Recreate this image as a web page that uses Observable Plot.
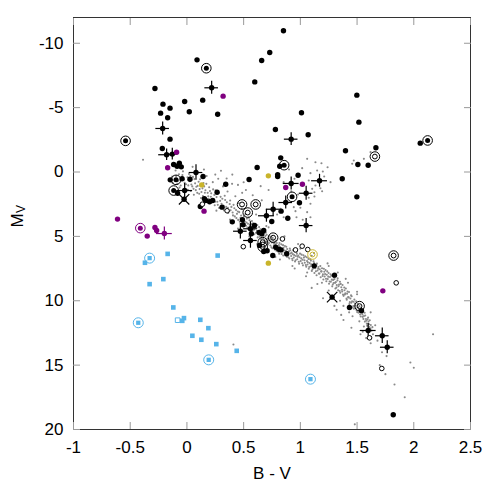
<!DOCTYPE html>
<html>
<head>
<meta charset="utf-8">
<script src="https://cdn.jsdelivr.net/npm/d3@7"></script>
<script src="https://cdn.jsdelivr.net/npm/@observablehq/plot@0.6"></script>
<style>
  html, body { margin: 0; padding: 0; background: white; }
</style>
</head>
<body>
<div id="chart"></div>
<script>
// ---------- tick labels ----------
const xTicks = [-1, -0.5, 0, 0.5, 1, 1.5, 2, 2.5];
const yTicks = [-10, -5, 0, 5, 10, 15, 20];

// ---------- field stars (small gray dots) [B-V, Mv] ----------
const fieldStars = [
[-0.13,0.35],[-0.11,0.62],[-0.10,-0.12],[-0.085,0.92],[-0.07,0.18],[-0.065,1.21],[-0.045,0.47],[-0.035,-0.05],[-0.02,0.83],[-0.015,1.32],[0.005,0.41],[0.012,1.04],[0.018,0.16],[0.026,0.72],[0.034,1.48],[0.047,1.12],[0.053,0.38],[0.061,1.77],[0.072,0.88],[0.078,1.41],[0.086,0.07],[0.094,1.08],[0.108,1.69],[0.116,0.57],[0.124,2.02],[0.137,1.27],[0.146,0.86],[0.158,1.61],[0.166,2.18],[0.174,0.31],[0.188,1.88],[0.196,1.19],[0.207,2.36],[0.214,1.66],[0.228,0.79],[0.236,2.12],[0.245,2.58],[0.253,1.43],[0.268,2.31],[0.276,0.52],[0.284,2.79],[0.297,1.93],[0.305,2.47],[0.318,1.12],[0.326,2.98],[0.337,2.18],[0.346,2.71],[0.358,1.52],[0.364,3.18],[0.377,2.49],[0.385,2.97],[0.398,0.92],[0.406,3.37],[0.418,2.82],[0.427,1.88],[0.436,3.58],[0.449,3.07],[0.457,2.41],[0.466,3.86],[0.478,3.38],[0.487,1.62],
[0.495,3.71],[0.506,4.05],[0.514,3.29],[0.526,3.92],[0.533,4.31],[0.547,3.55],[0.554,4.11],[0.566,4.62],[0.573,3.81],[0.586,4.35],[0.594,4.83],[0.605,4.02],[0.617,4.56],[0.624,5.08],[0.636,4.28],[0.645,4.77],[0.653,5.21],[0.667,4.49],[0.674,4.96],[0.688,5.42],[0.695,4.71],[0.707,5.18],[0.714,5.63],[0.726,4.95],[0.738,5.37],[0.745,5.85],[0.756,5.12],[0.768,5.58],[0.777,6.04],[0.786,5.33],[0.795,5.79],[0.807,6.21],[0.816,5.52],[0.827,5.93],[0.835,6.37],[0.847,5.68],[0.856,6.08],[0.868,6.49],[0.876,5.81],[0.887,6.22],[0.895,6.62],[0.907,5.94],[0.916,6.33],[0.928,6.74],[0.937,6.07],[0.946,6.46],[0.958,6.86],[0.966,6.21],[0.977,6.58],[0.986,6.97],[0.997,6.34],[1.008,6.71],[1.016,7.09],[1.027,6.47],[1.036,6.85],[1.048,7.22],[1.057,6.62],[1.066,7.01],[1.078,7.38],[1.087,6.78],[1.096,7.17],[1.107,7.55],[1.116,6.94],[1.128,7.33],[1.137,7.71],[1.146,7.12],[1.157,7.52],[1.168,7.89],[1.176,7.31],[1.187,7.72],[1.196,8.08],[1.207,7.51],[1.218,7.93],[1.226,8.29],[1.237,7.72],[1.246,8.13],[1.258,8.51],[1.266,7.94],[1.277,8.36],[1.286,8.74],[1.297,8.17],[1.306,8.61],[1.318,8.98],[1.327,8.42],[1.336,8.87],[1.347,9.24],[1.356,8.69],[1.367,9.14],[1.376,9.52],[1.387,8.97],[1.396,9.43],[1.407,9.82],[1.416,9.28],[1.427,9.74],[1.436,10.11],[1.447,9.58],[1.456,10.05],[1.467,10.42],[1.476,9.91],[1.487,10.38],[1.496,10.74],[1.507,10.24],[1.516,10.71],[1.527,11.07],[1.536,10.58],[1.547,11.06],[1.556,11.41],[1.567,10.93],[1.578,11.42],[1.586,11.78],[1.597,11.31],[1.606,11.82],[1.618,12.16],
[0.61,3.3],[0.72,4.3],[0.86,5.0],[0.98,5.6],[1.12,6.3],[1.24,7.1],[1.33,7.8],[1.42,8.6],[1.50,9.5],[0.45,4.4],[0.62,5.6],[0.78,6.6],[0.93,7.3],[1.06,7.8],[1.19,8.6],[1.25,9.2],[1.35,10.0],[1.43,10.9],[1.52,11.6],[1.36,11.1],[1.30,10.4],[1.58,12.9],[1.64,12.6],[1.68,13.1],[1.72,14.0],[1.76,14.3],[1.70,15.0],[1.75,15.7],[1.83,16.5],[1.97,14.8],[2.0,15.2],[1.92,17.5],[1.48,19.6],[2.17,12.6],[0.41,13.4],[1.62,13.3],[1.55,12.4],
[1.06,-1.02],[1.133,-0.76],[1.186,-0.68],[1.24,-0.37],[1.016,-0.30],[1.089,0.09],[1.148,-0.12],[1.198,-0.04],[1.266,0.79],[1.177,1.26],[1.133,1.05],[1.104,1.31],[1.124,1.57],[1.192,1.49],[1.074,0.66],[0.853,0.79],[0.948,0.53],[1.074,2.0],[1.089,2.47],[1.124,1.9],[1.0,2.78],[0.957,3.04],[1.06,3.12],[1.089,3.51],[0.942,2.73],[0.824,2.86],[0.795,3.3],[0.853,3.51],[0.966,3.51],[1.021,3.71],[1.471,-0.89],[1.56,-1.02],[1.457,-0.64],[1.619,-1.54],[-0.387,-0.95],[0.92,1.5],[0.98,1.75],[1.21,0.35],[0.90,-0.2],[0.72,1.4],[0.65,1.1],
[0.05,-0.4],[0.15,-0.2],[0.25,0.2],[0.35,0.5],[0.45,1.0],[0.52,1.4],[0.58,1.8],[0.66,2.2],[0.40,0.2],[0.50,0.8],[0.30,-0.1],
[-0.125,0.85],[-0.095,0.31],[-0.075,0.67],[-0.055,1.05],[-0.04,0.24],[-0.025,0.58],[-0.008,0.95],[0.008,1.38],[0.015,0.62],[0.031,0.29],[0.039,0.97],[0.058,1.31],[0.066,0.55],[0.083,1.15],[0.091,1.62],[0.103,0.76],[0.112,1.33],[0.128,1.55],[0.133,0.95],[0.141,1.86],[0.152,1.12],[0.163,1.42],[0.171,0.92],[0.183,1.62],[0.192,2.08],[0.203,1.48],[0.211,1.92],[0.222,2.21],[0.231,1.35],[0.242,1.78],[0.249,2.31],[0.261,1.95],[0.272,2.55],[0.281,1.62],[0.293,2.24],[0.301,2.81],[0.312,2.08],[0.322,2.62],[0.333,1.85],[0.341,2.95],[0.352,2.35],[0.361,2.78],[0.372,3.05],[0.381,2.21],[0.392,2.71],[0.403,3.15],[0.411,2.55],[0.422,3.45],[0.433,2.95],[0.441,3.25],[0.452,3.72],[0.461,3.12],[0.472,3.55],[0.483,2.85],[0.491,4.05],
[0.502,3.45],[0.511,3.85],[0.521,4.18],[0.529,3.62],[0.538,4.02],[0.544,4.45],[0.552,3.75],[0.561,4.25],[0.569,4.05],[0.578,4.55],[0.583,3.98],[0.591,4.48],[0.599,4.22],[0.608,4.72],[0.613,4.35],[0.621,4.12],[0.629,4.85],[0.633,4.58],[0.641,5.02],[0.649,4.45],[0.657,4.92],[0.662,4.69],[0.671,5.15],[0.679,4.78],[0.684,5.28],[0.691,4.98],[0.699,5.45],[0.703,4.88],[0.711,5.35],[0.719,5.08],[0.723,5.52],[0.731,5.22],[0.736,5.71],[0.742,5.05],[0.749,5.48],[0.753,5.92],[0.761,5.32],[0.766,5.75],[0.772,5.45],[0.781,5.62],[0.789,6.12],[0.792,5.52],[0.801,5.95],[0.811,5.68],[0.813,6.35],[0.821,5.82],[0.829,6.15],[0.832,5.62],[0.841,6.05],[0.849,6.48],[0.852,5.88],[0.861,6.28],[0.864,5.75],[0.872,6.12],[0.881,6.58],[0.884,5.98],[0.891,6.38],[0.899,6.15],[0.903,6.72],[0.911,6.08],[0.919,6.52],[0.923,6.25],[0.931,6.85],[0.934,6.38],[0.942,6.65],[0.951,6.18],[0.953,6.95],[0.961,6.52],[0.969,6.35],[0.972,6.78],[0.981,6.48],[0.989,7.12],[0.993,6.62],
[1.003,6.92],[1.011,6.42],[1.019,6.82],[1.023,7.25],[1.031,6.65],[1.039,7.05],[1.043,6.55],[1.052,7.35],[1.059,6.92],[1.063,7.18],[1.071,6.75],[1.074,7.52],[1.082,7.08],[1.091,7.32],[1.093,6.88],[1.101,7.68],[1.109,7.25],[1.113,7.45],[1.121,7.08],[1.124,7.85],[1.132,7.48],[1.141,7.28],[1.143,8.02],[1.151,7.65],[1.159,7.38],[1.163,7.88],[1.171,7.55],[1.179,8.18],[1.183,7.72],[1.191,7.48],[1.199,7.95],[1.203,8.35],[1.211,7.75],[1.214,8.12],[1.222,7.62],[1.229,8.48],[1.233,7.98],[1.241,8.32],[1.249,7.85],[1.253,8.68],[1.261,8.15],[1.269,8.52],[1.273,8.05],[1.281,8.88],[1.289,8.38],[1.293,8.62],[1.301,8.32],[1.309,9.05],[1.313,8.55],[1.321,8.78],[1.329,8.25],[1.333,9.18],[1.341,8.75],[1.349,8.52],[1.352,9.38],[1.361,8.95],[1.369,9.28],[1.372,8.78],[1.381,9.62],[1.389,9.18],[1.393,9.52],[1.401,9.05],[1.409,9.92],[1.412,9.45],[1.421,9.72],[1.429,9.32],[1.432,10.25],[1.441,9.82],[1.449,10.15],[1.452,9.65],[1.461,10.52],[1.469,10.08],[1.472,10.62],[1.481,10.22],[1.489,10.58],[1.492,10.05],[1.501,10.88],[1.509,10.52],[1.512,10.92],[1.521,10.42],[1.529,10.78],[1.532,11.22],[1.541,10.85],[1.549,11.25],[1.552,10.72],[1.561,11.18],[1.569,11.62],[1.572,11.15],[1.581,11.55],[1.589,11.95],[1.592,11.45],[1.601,11.62],[1.609,12.05],[1.612,11.52],[1.621,11.88],[1.628,12.32],[1.635,12.05],
[0.55,5.0],[0.68,5.9],[0.82,6.8],[0.95,7.5],[1.05,8.1],[1.15,8.7],[1.28,9.6],[1.38,10.4],[1.46,11.2],[1.56,12.0],[0.38,3.7],[0.26,3.0],[0.7,4.2],[0.85,5.2],[1.0,5.95],[1.1,6.5],[1.25,7.3],[1.4,8.3],[1.5,9.3],[1.62,10.9],[1.66,11.9],[1.53,12.6],[1.45,12.1],[1.38,11.5],[1.2,9.8],[1.1,9.0],[1.32,10.7]
];

// ---------- black filled stars ----------
const blackStars = [
[0.089,-8.71],[-0.282,-6.49],[-0.020,-5.48],[0.139,-5.58],[-0.211,-5.27],[-0.149,-4.96],[-0.232,-4.57],[0.021,-4.68],[0.271,-4.49],[-0.170,-4.21],[-0.149,-2.55],[-0.217,-1.83],
[-0.117,-0.58],[-0.087,-0.45],[-0.067,-0.68],[-0.05,-0.40],
[0.851,-10.97],[0.730,-9.28],[0.659,-8.66],[0.598,-7.0],[1.498,-5.97],[1.010,-4.60],[1.516,-3.87],[0.780,-3.30],[1.069,-2.89],[2.057,-2.24],[1.666,-1.88],[1.398,-1.65],[0.827,-1.10],[0.818,-0.45],[1.507,-0.58],[1.598,-0.53],[0.619,-0.35],[0.548,0.58],[0.80,0.20],[0.80,0.35],[0.980,0.25],[1.369,0.53],[1.498,1.93],[0.992,2.39],[0.748,3.84],[0.889,3.59],
[-0.147,0.61],[-0.043,0.53],[0.027,0.56],[0.142,0.35],[0.342,0.95],[0.266,1.57],[-0.082,1.65],[0.165,2.21],[0.200,2.31],[0.118,2.68],[0.227,2.21],[0.31,2.73],[0.154,2.08],
[0.40,3.87],[0.489,3.71],[0.495,4.10],[0.568,4.80],[0.595,4.16],[0.636,4.70],[0.66,4.80],[0.677,4.54],[0.64,5.70],[0.677,6.17],[0.707,6.12],[0.783,5.84],[0.81,6.0],[0.83,6.05],[0.88,6.35],[0.757,6.49],[0.83,3.04],
[1.122,7.29],[1.301,8.01],[1.433,10.52],[1.539,10.78],[1.819,18.86]
];

// ---------- black stars with error bars [B-V, Mv, errBV, errMv] ----------
const errorStars = [
[0.218,-6.54,0.06,0.5],[-0.214,-3.38,0.06,0.5],[-0.179,-1.34,0.07,0.45],[-0.129,-1.39,0.05,0.45],[0.919,-2.55,0.06,0.5],[0.080,0.04,0.06,0.6],[-0.020,1.44,0.07,0.55],[1.169,0.68,0.07,0.5],[0.919,0.89,0.07,0.5],[1.051,1.65,0.06,0.55],[0.871,2.37,0.06,0.5],[0.760,2.89,0.06,0.55],[0.701,3.40,0.07,0.5],[1.051,4.16,0.06,0.55],[0.471,4.60,0.06,0.6],[0.560,4.41,0.06,0.55],[0.560,5.32,0.06,0.6],[1.598,12.31,0.07,0.55],[1.722,12.72,0.06,0.6],[1.766,13.61,0.06,0.5]
];
const crossedStars = [[-0.025,2.12],[1.280,9.72]];

// ---------- ringed / double-ring / open stars ----------
const ringedStars = [[-0.541,-2.42],[0.171,-8.06],[2.122,-2.45],[0.927,1.93],[-0.096,0.61],[-0.117,1.44],[0.857,-0.53]];
const doubleRingStars = [[0.486,2.52],[0.606,2.52],[0.536,3.15],[0.760,5.10],[0.668,5.45],[0.668,5.82],[1.657,-1.20],[1.822,6.49],[1.522,10.42]];
const openStars = [[0.136,2.50],[0.354,3.01],[0.497,5.80],[0.842,5.20],[0.957,6.05],[1.016,5.76],[1.065,6.02],[1.845,8.61],[1.610,12.88],[1.718,15.26]];

// ---------- purple stars ----------
const purpleStars = [[0.319,-5.89],[-0.091,-1.54],[-0.170,-0.33],[0.151,3.04],[-0.612,3.66],[-0.350,4.98],[-0.282,4.31],[-0.267,4.54],[0.871,1.20],[1.018,0.95],[1.727,9.23]];
const purpleRinged = [[-0.411,4.36]];
const purpleError = [[-0.199,4.78,0.07,0.5]];

// ---------- yellow stars ----------
const yellowStars = [[0.130,1.0],[0.718,0.30],[0.718,7.08]];
const yellowDoubleRing = [[1.107,6.41]];

// ---------- white dwarfs (blue squares) ----------
const whiteDwarfs = [[-0.370,7.05],[-0.170,6.36],[0.271,6.49],[-0.208,8.32],[-0.329,8.71],[-0.120,10.52],[-0.041,11.56],[-0.026,11.35],[0.118,11.48],[0.189,12.13],[0.048,12.72],[0.127,13.03],[0.259,13.37],[0.439,13.89]];
const whiteDwarfsRinged = [[-0.329,6.69],[-0.429,11.71],[0.192,14.59],[1.089,16.09]];
const whiteDwarfsOpen = [[-0.082,11.51]];

const PURPLE = "#800080", YELLOW = "#c9b42a", BLUE = "#56b4e9";
const bv = d => d[0], mv = d => d[1];

function errorBars(data, color) {
  return [
    Plot.ruleX(data, {x: bv, y1: d => d[1] - d[3], y2: d => d[1] + d[3], stroke: color, strokeWidth: 1.2}),
    Plot.ruleY(data, {y: mv, x1: d => d[0] - d[2], x2: d => d[0] + d[2], stroke: color, strokeWidth: 1.2}),
    Plot.dot(data, {x: bv, y: mv, r: 2.7, fill: color})
  ];
}

const chart = Plot.plot({
  width: 491,
  height: 491,
  marginLeft: 73,
  marginRight: 21,
  marginTop: 17,
  marginBottom: 62,
  style: {fontFamily: "'Liberation Sans', Arial, Helvetica, sans-serif", fontSize: "17px", background: "white", overflow: "visible"},
  x: {domain: [-1, 2.5]},
  y: {domain: [20, -12]},
  marks: [
    Plot.dot(fieldStars, {x: bv, y: mv, r: 1.05, fill: "#8a8a8a"}),
    Plot.dot(blackStars, {x: bv, y: mv, r: 2.7, fill: "black"}),
    ...errorBars(errorStars, "black"),
    Plot.dot(crossedStars, {x: bv, y: mv, r: 2.7, fill: "black"}),
    Plot.dot(crossedStars, {x: bv, y: mv, r: 4.8, symbol: "times", stroke: "black", strokeWidth: 1.2}),
    Plot.dot(ringedStars, {x: bv, y: mv, r: 2.5, fill: "black"}),
    Plot.dot(ringedStars, {x: bv, y: mv, r: 4.8, fill: "none", stroke: "black", strokeWidth: 1}),
    Plot.dot(doubleRingStars, {x: bv, y: mv, r: 2.4, fill: "none", stroke: "black", strokeWidth: 1}),
    Plot.dot(doubleRingStars, {x: bv, y: mv, r: 4.8, fill: "none", stroke: "black", strokeWidth: 1}),
    Plot.dot(openStars, {x: bv, y: mv, r: 2.3, fill: "white", stroke: "black", strokeWidth: 1}),
    Plot.dot(purpleStars, {x: bv, y: mv, r: 2.7, fill: PURPLE}),
    Plot.dot(purpleRinged, {x: bv, y: mv, r: 2.5, fill: PURPLE}),
    Plot.dot(purpleRinged, {x: bv, y: mv, r: 4.8, fill: "none", stroke: PURPLE, strokeWidth: 1}),
    ...errorBars(purpleError, PURPLE),
    Plot.dot(yellowStars, {x: bv, y: mv, r: 2.7, fill: YELLOW}),
    Plot.dot(yellowDoubleRing, {x: bv, y: mv, r: 2.4, fill: "none", stroke: YELLOW, strokeWidth: 1}),
    Plot.dot(yellowDoubleRing, {x: bv, y: mv, r: 4.8, fill: "none", stroke: YELLOW, strokeWidth: 1}),
    Plot.dot(whiteDwarfs, {x: bv, y: mv, r: 2.6, symbol: "square", fill: BLUE}),
    Plot.dot(whiteDwarfsRinged, {x: bv, y: mv, r: 2.4, symbol: "square", fill: BLUE}),
    Plot.dot(whiteDwarfsRinged, {x: bv, y: mv, r: 5, fill: "none", stroke: BLUE, strokeWidth: 1}),
    Plot.dot(whiteDwarfsOpen, {x: bv, y: mv, r: 2.6, symbol: "square", fill: "white", stroke: BLUE, strokeWidth: 1}),
    Plot.frame({stroke: "#333", strokeWidth: 1}),
    Plot.axisX(xTicks, {anchor: "bottom", tickSize: -7, tickPadding: 18, tickFormat: d => String(d), stroke: "#999", fill: "black", fontSize: 17, label: null}),
    Plot.axisX(xTicks, {anchor: "top", tickSize: -7, tickFormat: () => "", stroke: "#999", label: null}),
    Plot.axisY(yTicks, {anchor: "left", tickSize: -7, tickPadding: 17, tickFormat: d => String(d), stroke: "#999", fill: "black", fontSize: 17, label: null}),
    Plot.axisY(yTicks, {anchor: "right", tickSize: -7, tickFormat: () => "", stroke: "#999", label: null}),
    Plot.text(["B - V"], {text: d => d, frameAnchor: "bottom", textAnchor: "middle", lineAnchor: "middle", dy: 44, fontSize: 17, fill: "black"}),
    Plot.text(["M"], {text: d => d, frameAnchor: "left", textAnchor: "middle", lineAnchor: "middle", rotate: -90, dx: -56, dy: -3, fontSize: 17, fill: "black"}),
    Plot.text(["V"], {text: d => d, frameAnchor: "left", textAnchor: "middle", lineAnchor: "middle", rotate: -90, dx: -52, dy: -14.5, fontSize: 12, fill: "black"})
  ]
});
document.getElementById("chart").appendChild(chart);
</script>
</body>
</html>
